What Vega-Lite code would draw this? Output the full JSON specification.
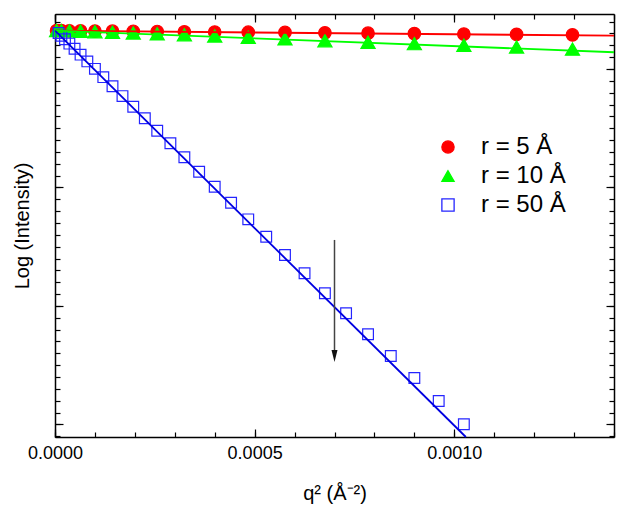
{
  "$schema": "https://vega.github.io/schema/vega-lite/v6.json",
  "width": 559,
  "height": 423,
  "autosize": {"type": "none"},
  "padding": {"left": 55, "top": 14, "right": 15, "bottom": 79},
  "background": "white",
  "config": {"view": {"stroke": null}, "font": "Liberation Sans"},
  "datasets": {
    "pts": [
      {"s": "r = 5 Å", "q2": 0.000004, "logI": 0.323},
      {"s": "r = 5 Å", "q2": 0.000016, "logI": 0.323},
      {"s": "r = 5 Å", "q2": 0.000036, "logI": 0.322},
      {"s": "r = 5 Å", "q2": 0.000064, "logI": 0.321},
      {"s": "r = 5 Å", "q2": 0.0001, "logI": 0.320},
      {"s": "r = 5 Å", "q2": 0.000144, "logI": 0.319},
      {"s": "r = 5 Å", "q2": 0.000196, "logI": 0.318},
      {"s": "r = 5 Å", "q2": 0.000256, "logI": 0.316},
      {"s": "r = 5 Å", "q2": 0.000324, "logI": 0.314},
      {"s": "r = 5 Å", "q2": 0.0004, "logI": 0.312},
      {"s": "r = 5 Å", "q2": 0.000484, "logI": 0.310},
      {"s": "r = 5 Å", "q2": 0.000576, "logI": 0.308},
      {"s": "r = 5 Å", "q2": 0.000676, "logI": 0.305},
      {"s": "r = 5 Å", "q2": 0.000784, "logI": 0.302},
      {"s": "r = 5 Å", "q2": 0.0009, "logI": 0.299},
      {"s": "r = 5 Å", "q2": 0.001024, "logI": 0.295},
      {"s": "r = 5 Å", "q2": 0.001156, "logI": 0.292},
      {"s": "r = 5 Å", "q2": 0.001296, "logI": 0.288},
      {"s": "r = 10 Å", "q2": 0.000004, "logI": 0.325},
      {"s": "r = 10 Å", "q2": 0.000016, "logI": 0.324},
      {"s": "r = 10 Å", "q2": 0.000036, "logI": 0.322},
      {"s": "r = 10 Å", "q2": 0.000064, "logI": 0.319},
      {"s": "r = 10 Å", "q2": 0.0001, "logI": 0.315},
      {"s": "r = 10 Å", "q2": 0.000144, "logI": 0.310},
      {"s": "r = 10 Å", "q2": 0.000196, "logI": 0.304},
      {"s": "r = 10 Å", "q2": 0.000256, "logI": 0.297},
      {"s": "r = 10 Å", "q2": 0.000324, "logI": 0.289},
      {"s": "r = 10 Å", "q2": 0.0004, "logI": 0.279},
      {"s": "r = 10 Å", "q2": 0.000484, "logI": 0.268},
      {"s": "r = 10 Å", "q2": 0.000576, "logI": 0.255},
      {"s": "r = 10 Å", "q2": 0.000676, "logI": 0.239},
      {"s": "r = 10 Å", "q2": 0.000784, "logI": 0.226},
      {"s": "r = 10 Å", "q2": 0.0009, "logI": 0.214},
      {"s": "r = 10 Å", "q2": 0.001024, "logI": 0.201},
      {"s": "r = 10 Å", "q2": 0.001156, "logI": 0.186},
      {"s": "r = 10 Å", "q2": 0.001296, "logI": 0.168},
      {"s": "r = 50 Å", "q2": 0.000009, "logI": 0.304},
      {"s": "r = 50 Å", "q2": 0.000016, "logI": 0.281},
      {"s": "r = 50 Å", "q2": 0.000025, "logI": 0.251},
      {"s": "r = 50 Å", "q2": 0.000036, "logI": 0.214},
      {"s": "r = 50 Å", "q2": 0.000049, "logI": 0.171},
      {"s": "r = 50 Å", "q2": 0.000064, "logI": 0.121},
      {"s": "r = 50 Å", "q2": 0.000081, "logI": 0.064},
      {"s": "r = 50 Å", "q2": 0.0001, "logI": 0.001},
      {"s": "r = 50 Å", "q2": 0.000121, "logI": -0.069},
      {"s": "r = 50 Å", "q2": 0.000144, "logI": -0.146},
      {"s": "r = 50 Å", "q2": 0.000169, "logI": -0.229},
      {"s": "r = 50 Å", "q2": 0.000196, "logI": -0.319},
      {"s": "r = 50 Å", "q2": 0.000225, "logI": -0.416},
      {"s": "r = 50 Å", "q2": 0.000256, "logI": -0.521},
      {"s": "r = 50 Å", "q2": 0.000289, "logI": -0.627},
      {"s": "r = 50 Å", "q2": 0.000324, "logI": -0.745},
      {"s": "r = 50 Å", "q2": 0.000361, "logI": -0.867},
      {"s": "r = 50 Å", "q2": 0.0004, "logI": -0.994},
      {"s": "r = 50 Å", "q2": 0.000441, "logI": -1.129},
      {"s": "r = 50 Å", "q2": 0.000484, "logI": -1.269},
      {"s": "r = 50 Å", "q2": 0.000529, "logI": -1.416},
      {"s": "r = 50 Å", "q2": 0.000576, "logI": -1.570},
      {"s": "r = 50 Å", "q2": 0.000625, "logI": -1.724},
      {"s": "r = 50 Å", "q2": 0.000676, "logI": -1.893},
      {"s": "r = 50 Å", "q2": 0.000729, "logI": -2.062},
      {"s": "r = 50 Å", "q2": 0.000784, "logI": -2.239},
      {"s": "r = 50 Å", "q2": 0.000841, "logI": -2.422},
      {"s": "r = 50 Å", "q2": 0.0009, "logI": -2.608},
      {"s": "r = 50 Å", "q2": 0.000961, "logI": -2.802},
      {"s": "r = 50 Å", "q2": 0.001024, "logI": -2.999}
    ],
    "fit": [
      {"s": "r = 5 Å", "q2": 0, "logI": 0.323},
      {"s": "r = 5 Å", "q2": 0.0014, "logI": 0.281},
      {"s": "r = 10 Å", "q2": 0, "logI": 0.323},
      {"s": "r = 10 Å", "q2": 0.0014, "logI": 0.141},
      {"s": "r = 50 Å", "q2": 0, "logI": 0.323},
      {"s": "r = 50 Å", "q2": 0.001029, "logI": -3.106}
    ],
    "arrow": [
      {"q2": 0.0007, "top": -1.443, "bottom": -2.40}
    ],
    "head": [
      {"q2": 0.0007, "logI": -2.422}
    ]
  },
  "resolve": {"axis": {"x": "independent", "y": "independent"}},
  "layer": [
    {
      "data": {"name": "pts"},
      "mark": {"type": "point", "strokeWidth": 1.2, "opacity": 1},
      "encoding": {
        "x": {
          "field": "q2", "type": "quantitative",
          "scale": {"domain": [0, 0.0014], "nice": false, "zero": false},
          "axis": {
            "orient": "bottom",
            "values": [0, 0.0001, 0.0002, 0.0003, 0.0004, 0.0005, 0.0006, 0.0007, 0.0008, 0.0009, 0.001, 0.0011, 0.0012, 0.0013, 0.0014],
            "labelExpr": "abs(datum.value*2000 - round(datum.value*2000)) < 0.01 ? format(datum.value, '.4f') : ''",
            "ticks": true, "tickSize": -5, "labelPadding": 12,
            "labelFont": "Liberation Sans", "labelFontSize": 18, "labelColor": "black",
            "labelFlush": false, "labelOverlap": false, "labelBound": false,
            "title": "q² (Å⁻²)", "titleFont": "Liberation Sans", "titleFontSize": 20, "titleFontWeight": "normal", "titleColor": "black",
            "titleX": 279.5, "titleY": 56, "titleBaseline": "middle", "titleAlign": "center",
            "domainColor": "black", "domainWidth": 1.5, "tickColor": "black", "tickWidth": 1.2, "grid": false
          }
        },
        "y": {
          "field": "logI", "type": "quantitative",
          "scale": {"domain": [-3.106, 0.464], "nice": false, "zero": false},
          "axis": {
            "orient": "left",
            "values": [-3.1, -3, -2.9, -2.8, -2.7, -2.6, -2.5, -2.4, -2.3, -2.2, -2.1, -2, -1.9, -1.8, -1.7, -1.6, -1.5, -1.4, -1.3, -1.2, -1.1, -1, -0.9, -0.8, -0.7, -0.6, -0.5, -0.4, -0.3, -0.2, -0.1, 0, 0.1, 0.2, 0.3, 0.4],
            "labels": false, "ticks": true, "tickSize": -5,
            "title": "Log (Intensity)", "titleFont": "Liberation Sans", "titleFontSize": 20, "titleFontWeight": "normal", "titleColor": "black",
            "titleX": -33, "titleY": 211.5, "titleAngle": -90, "titleBaseline": "middle", "titleAlign": "center",
            "domainColor": "black", "domainWidth": 1.5, "tickColor": "black", "tickWidth": 1.2, "grid": false
          }
        },
        "shape": {
          "field": "s", "type": "nominal",
          "scale": {"domain": ["r = 5 Å", "r = 10 Å", "r = 50 Å"], "range": ["circle", "triangle-up", "square"]},
          "legend": {"title": null, "orient": "none", "legendX": 381, "legendY": 121, "padding": 0, "labelFont": "Liberation Sans", "labelFontSize": 24, "labelColor": "black", "symbolSize": 150, "symbolStrokeWidth": 1.3, "rowPadding": 5, "labelOffset": 21}
        },
        "fill": {
          "field": "s", "type": "nominal",
          "scale": {"domain": ["r = 5 Å", "r = 10 Å", "r = 50 Å"], "range": ["#ff0000", "#00ff00", "transparent"]},
          "legend": {"title": null, "orient": "none", "legendX": 381, "legendY": 121, "padding": 0, "labelFont": "Liberation Sans", "labelFontSize": 24, "labelColor": "black", "symbolSize": 150, "symbolStrokeWidth": 1.3, "rowPadding": 5, "labelOffset": 21}
        },
        "stroke": {
          "field": "s", "type": "nominal",
          "scale": {"domain": ["r = 5 Å", "r = 10 Å", "r = 50 Å"], "range": ["#ff0000", "#00ff00", "#2525ff"]},
          "legend": {"title": null, "orient": "none", "legendX": 381, "legendY": 121, "padding": 0, "labelFont": "Liberation Sans", "labelFontSize": 24, "labelColor": "black", "symbolSize": 150, "symbolStrokeWidth": 1.3, "rowPadding": 5, "labelOffset": 21}
        },
        "size": {
          "field": "s", "type": "nominal",
          "scale": {"type": "point", "domain": ["r = 10 Å", "r = 5 Å", "r = 50 Å"], "range": [200, 115]},
          "legend": null
        }
      }
    },
    {
      "data": {"name": "fit"},
      "transform": [{"filter": "datum.s == 'r = 5 Å'"}],
      "mark": {"type": "line", "color": "#ff0000", "strokeWidth": 1.8},
      "encoding": {
        "x": {"field": "q2", "type": "quantitative", "scale": {"domain": [0, 0.0014], "nice": false, "zero": false}, "axis": null},
        "y": {"field": "logI", "type": "quantitative", "scale": {"domain": [-3.106, 0.464], "nice": false, "zero": false}, "axis": null}
      }
    },
    {
      "data": {"name": "fit"},
      "transform": [{"filter": "datum.s == 'r = 10 Å'"}],
      "mark": {"type": "line", "color": "#00ff00", "strokeWidth": 1.8},
      "encoding": {
        "x": {"field": "q2", "type": "quantitative", "scale": {"domain": [0, 0.0014], "nice": false, "zero": false}, "axis": null},
        "y": {"field": "logI", "type": "quantitative", "scale": {"domain": [-3.106, 0.464], "nice": false, "zero": false}, "axis": null}
      }
    },
    {
      "data": {"name": "fit"},
      "transform": [{"filter": "datum.s == 'r = 50 Å'"}],
      "mark": {"type": "line", "color": "#0000e0", "strokeWidth": 1.8},
      "encoding": {
        "x": {
          "field": "q2", "type": "quantitative",
          "scale": {"domain": [0, 0.0014], "nice": false, "zero": false},
          "axis": {"orient": "top", "values": [0, 0.0005, 0.001], "labels": false, "ticks": true, "tickSize": -8, "title": null, "domain": false, "tickColor": "black", "tickWidth": 1.2, "grid": false}
        },
        "y": {
          "field": "logI", "type": "quantitative",
          "scale": {"domain": [-3.106, 0.464], "nice": false, "zero": false},
          "axis": {"orient": "right", "values": [-3, -2, -1, 0], "labels": false, "ticks": true, "tickSize": -8, "title": null, "domain": false, "tickColor": "black", "tickWidth": 1.2, "grid": false}
        }
      }
    },
    {
      "data": {"name": "arrow"},
      "mark": {"type": "rule", "color": "#444444", "strokeWidth": 1.5},
      "encoding": {
        "x": {
          "field": "q2", "type": "quantitative",
          "scale": {"domain": [0, 0.0014], "nice": false, "zero": false},
          "axis": {
            "orient": "top",
            "values": [0, 0.0001, 0.0002, 0.0003, 0.0004, 0.0005, 0.0006, 0.0007, 0.0008, 0.0009, 0.001, 0.0011, 0.0012, 0.0013, 0.0014],
            "labels": false, "ticks": true, "tickSize": -5, "title": null,
            "domainColor": "black", "domainWidth": 1.5, "tickColor": "black", "tickWidth": 1.2, "grid": false
          }
        },
        "y": {
          "field": "top", "type": "quantitative",
          "scale": {"domain": [-3.106, 0.464], "nice": false, "zero": false},
          "axis": {
            "orient": "right",
            "values": [-3.1, -3, -2.9, -2.8, -2.7, -2.6, -2.5, -2.4, -2.3, -2.2, -2.1, -2, -1.9, -1.8, -1.7, -1.6, -1.5, -1.4, -1.3, -1.2, -1.1, -1, -0.9, -0.8, -0.7, -0.6, -0.5, -0.4, -0.3, -0.2, -0.1, 0, 0.1, 0.2, 0.3, 0.4],
            "labels": false, "ticks": true, "tickSize": -5, "title": null,
            "domainColor": "black", "domainWidth": 1.5, "tickColor": "black", "tickWidth": 1.2, "grid": false
          }
        },
        "y2": {"field": "bottom"}
      }
    },
    {
      "data": {"name": "head"},
      "mark": {"type": "point", "shape": "M-0.5,-1L0.5,-1L0,1Z", "filled": true, "color": "#111111", "size": 144, "opacity": 1},
      "encoding": {
        "x": {
          "field": "q2", "type": "quantitative",
          "scale": {"domain": [0, 0.0014], "nice": false, "zero": false},
          "axis": {"orient": "bottom", "values": [0, 0.0005, 0.001], "labels": false, "ticks": true, "tickSize": -8, "title": null, "domain": false, "tickColor": "black", "tickWidth": 1.2, "grid": false}
        },
        "y": {
          "field": "logI", "type": "quantitative",
          "scale": {"domain": [-3.106, 0.464], "nice": false, "zero": false},
          "axis": {"orient": "left", "values": [-3, -2, -1, 0], "labels": false, "ticks": true, "tickSize": -8, "title": null, "domain": false, "tickColor": "black", "tickWidth": 1.2, "grid": false}
        }
      }
    }
  ]
}
